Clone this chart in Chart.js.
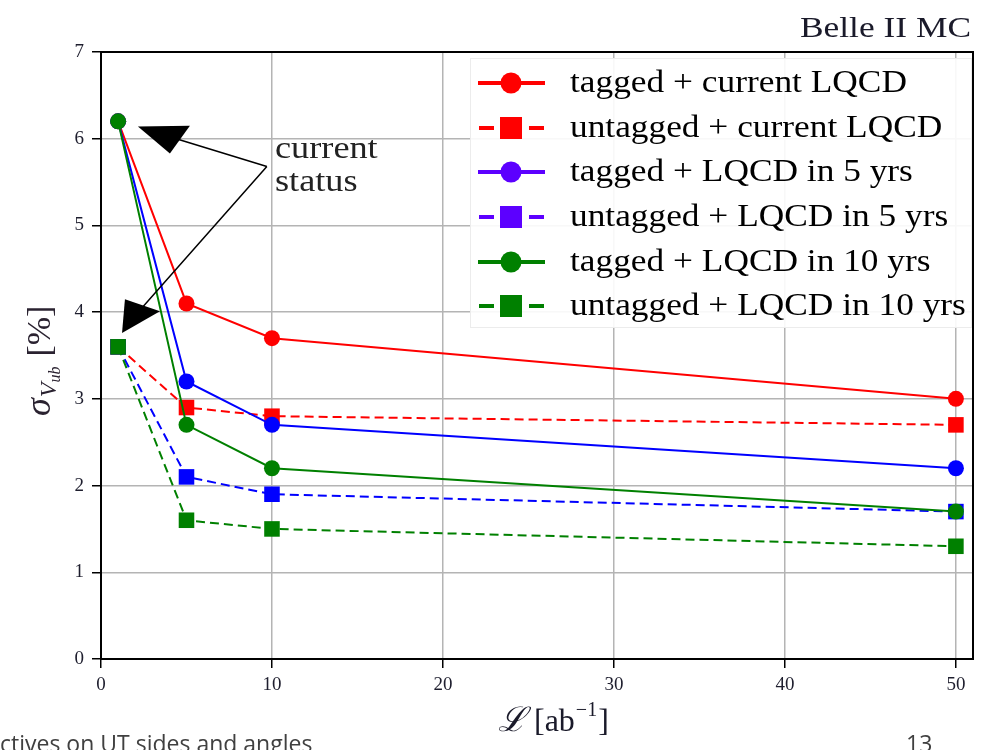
<!DOCTYPE html>
<html>
<head>
<meta charset="utf-8">
<script src="https://cdn.jsdelivr.net/npm/chart.js@4.4.0/dist/chart.umd.min.js"></script>
<style>
  body { margin: 0; background: #fff; }
  #wrap { width: 988px; height: 750px; }
</style>
</head>
<body>
<div id="wrap"><canvas id="vubChart" width="988" height="750"></canvas></div>
<script>
// luminosity points (ab^-1)
const lumi = [1, 5, 10, 50];

// sigma(Vub) in %
const taggedCurrent   = [6.2, 4.1, 3.7, 3.0];
const untaggedCurrent = [3.6, 2.9, 2.8, 2.7];
const tagged5yrs      = [6.2, 3.2, 2.7, 2.2];
const untagged5yrs    = [3.6, 2.1, 1.9, 1.7];
const tagged10yrs     = [6.2, 2.7, 2.2, 1.7];
const untagged10yrs   = [3.6, 1.6, 1.5, 1.3];

const seriesLabels = [
    'tagged + current LQCD',
    'untagged + current LQCD',
    'tagged + LQCD in 5 yrs',
    'untagged + LQCD in 5 yrs',
    'tagged + LQCD in 10 yrs',
    'untagged + LQCD in 10 yrs'
];

const xTicks = [0, 10, 20, 30, 40, 50];
const yTicks = [0, 1, 2, 3, 4, 5, 6, 7];

const SERIF = '"Liberation Serif", "DejaVu Serif", serif';

const toPoints = (vals) => vals.map((v, i) => ({ x: lumi[i], y: v }));

function makeSet(label, vals, color, legendColor, tagged, order) {
    return {
        label: label,
        data: toPoints(vals),
        borderColor: color,
        backgroundColor: color,
        legendColor: legendColor,
        borderWidth: 2,
        borderDash: tagged ? [] : [9, 5],
        pointStyle: tagged ? 'circle' : 'rect',
        pointRadius: tagged ? 8 : 11,
        pointBorderWidth: 0,
        tension: 0,
        order: order
    };
}

// text stretched horizontally (computer modern is wide)
function wideText(ctx, txt, x, y, sx) {
    ctx.save();
    ctx.translate(x, y);
    ctx.scale(sx, 1);
    ctx.fillText(txt, 0, 0);
    ctx.restore();
}

// legend drawn inside plot area
const boxLegend = {
    id: 'boxLegend',
    afterDatasetsDraw(chart) {
        const ctx = chart.ctx;
        const x0 = 470, y0 = 58, x1 = 972, y1 = 328;
        ctx.save();
        ctx.fillStyle = 'rgba(255,255,255,0.9)';
        ctx.fillRect(x0, y0, x1 - x0, y1 - y0);
        ctx.strokeStyle = '#ececec';
        ctx.lineWidth = 1;
        ctx.strokeRect(x0 + 0.5, y0 + 0.5, x1 - x0 - 1, y1 - y0 - 1);

        const rows = [83, 128, 172, 217, 262, 306];
        chart.data.datasets.forEach((ds, i) => {
            const y = rows[i];
            const c = ds.legendColor;
            ctx.strokeStyle = c;
            ctx.fillStyle = c;
            ctx.lineWidth = 4;
            ctx.beginPath();
            if (ds.pointStyle === 'circle') {
                ctx.moveTo(478, y); ctx.lineTo(545, y);
                ctx.stroke();
                ctx.beginPath();
                ctx.arc(511, y, 10.5, 0, Math.PI * 2);
                ctx.fill();
            } else {
                ctx.moveTo(479, y); ctx.lineTo(494, y);
                ctx.moveTo(529, y); ctx.lineTo(544, y);
                ctx.stroke();
                ctx.fillRect(500, y - 11, 22, 22);
            }
            ctx.fillStyle = '#000';
            ctx.font = '31px ' + SERIF;
            ctx.textBaseline = 'middle';
            ctx.textAlign = 'left';
            wideText(ctx, ds.label, 570, y + 1, 1.14);
        });
        ctx.restore();
    }
};

// frame, titles, arrows, slide footer
const extras = {
    id: 'extras',
    afterDraw(chart) {
        const ctx = chart.ctx;
        const a = chart.chartArea;
        const xs = chart.scales.x, ys = chart.scales.y;
        const px = (v) => xs.getPixelForValue(v);
        const py = (v) => ys.getPixelForValue(v);
        ctx.save();

        // frame
        ctx.strokeStyle = '#000';
        ctx.lineWidth = 2;
        ctx.strokeRect(a.left, a.top, a.right - a.left, a.bottom - a.top);

        // "current status" annotation
        ctx.lineWidth = 1.5;
        ctx.beginPath();
        ctx.moveTo(px(9.7), py(5.68)); ctx.lineTo(px(4.4), py(6.0));
        ctx.moveTo(px(9.7), py(5.68)); ctx.lineTo(px(2.4), py(4.05));
        ctx.stroke();
        ctx.fillStyle = '#000';
        ctx.beginPath();
        ctx.moveTo(px(2.16), py(6.14)); ctx.lineTo(px(5.2), py(6.15)); ctx.lineTo(px(4.03), py(5.83));
        ctx.closePath(); ctx.fill();
        ctx.beginPath();
        ctx.moveTo(px(1.4), py(4.15)); ctx.lineTo(px(3.45), py(4.01)); ctx.lineTo(px(1.23), py(3.76));
        ctx.closePath(); ctx.fill();

        ctx.fillStyle = '#222';
        ctx.font = '31px ' + SERIF;
        ctx.textAlign = 'left';
        ctx.textBaseline = 'alphabetic';
        wideText(ctx, 'current', 275, 158, 1.17);
        wideText(ctx, 'status', 275, 191, 1.17);

        // Belle II MC
        ctx.fillStyle = '#1a1a2a';
        ctx.font = '30px ' + SERIF;
        ctx.textAlign = 'right';
        wideText(ctx, 'Belle II MC', 971, 37, 1.18);

        // y axis title: sigma_{V_ub} [%]
        ctx.save();
        ctx.translate(50, 352);
        ctx.rotate(-Math.PI / 2);
        ctx.fillStyle = '#2a2230';
        ctx.textAlign = 'left';
        ctx.textBaseline = 'alphabetic';
        let cx = -64;
        ctx.font = 'italic 36px ' + SERIF;
        ctx.fillText('\u03C3', cx, 0); cx += ctx.measureText('\u03C3').width + 1;
        ctx.font = 'italic 24px ' + SERIF;
        ctx.fillText('V', cx, 6); cx += ctx.measureText('V').width;
        ctx.font = 'italic 16px ' + SERIF;
        ctx.fillText('ub', cx, 10); cx += ctx.measureText('ub').width + 10;
        ctx.font = '34px ' + SERIF;
        ctx.fillText('[%]', cx, 0);
        ctx.restore();

        // x axis title: L [ab^-1]
        ctx.fillStyle = '#1a1a2a';
        ctx.textAlign = 'left';
        let lx = 498;
        ctx.font = 'italic 34px "DejaVu Serif", serif';
        ctx.fillText('\u2112', lx, 731); lx += ctx.measureText('\u2112').width + 8;
        ctx.font = '32px ' + SERIF;
        ctx.fillText('[ab', lx, 731); lx += ctx.measureText('[ab').width + 1;
        ctx.font = '20px ' + SERIF;
        ctx.fillText('\u22121', lx, 716); lx += ctx.measureText('\u22121').width + 1;
        ctx.font = '32px ' + SERIF;
        ctx.fillText(']', lx, 731);

        // slide footer
        ctx.fillStyle = '#404040';
        ctx.font = '23px "Open Sans", "Liberation Sans", sans-serif';
        ctx.fillText('ctives on UT sides and angles', 0, 752);
        ctx.fillText('13', 906, 752);

        ctx.restore();
    }
};

const chart = new Chart(document.getElementById('vubChart'), {
    type: 'line',
    data: {
        datasets: [
            makeSet(seriesLabels[0], taggedCurrent,   '#ff0000', '#ff0000', true, 6),
            makeSet(seriesLabels[1], untaggedCurrent, '#ff0000', '#ff0000', false, 5),
            makeSet(seriesLabels[2], tagged5yrs,      '#0000ff', '#5c00ff', true, 4),
            makeSet(seriesLabels[3], untagged5yrs,    '#0000ff', '#5c00ff', false, 3),
            makeSet(seriesLabels[4], tagged10yrs,     '#008000', '#008000', true, 2),
            makeSet(seriesLabels[5], untagged10yrs,   '#008000', '#008000', false, 1)
        ]
    },
    options: {
        responsive: false,
        animation: false,
        layout: { padding: { left: 0, top: 52, right: 15, bottom: 0 } },
        plugins: {
            legend: { display: false },
            tooltip: { enabled: false },
            title: { display: false }
        },
        scales: {
            x: {
                type: 'linear',
                min: 0,
                max: 51,
                afterBuildTicks: (s) => { s.ticks = xTicks.map(v => ({ value: v })); },
                afterFit: (s) => { s.height = 91; },
                grid: { color: '#b4b4b4', lineWidth: 1.5, tickColor: '#000', tickLength: 9, tickWidth: 1.5 },
                border: { display: true, color: '#000', width: 2 },
                ticks: {
                    color: '#1e1e2e',
                    padding: 6,
                    maxRotation: 0,
                    font: { family: SERIF, size: 19 }
                }
            },
            y: {
                min: 0,
                max: 7,
                afterBuildTicks: (s) => { s.ticks = yTicks.map(v => ({ value: v })); },
                afterFit: (s) => { s.width = 101; },
                grid: { color: '#b4b4b4', lineWidth: 1.5, tickColor: '#000', tickLength: 9, tickWidth: 1.5 },
                border: { display: true, color: '#000', width: 2 },
                ticks: {
                    color: '#1e1e2e',
                    padding: 8,
                    font: { family: SERIF, size: 19 }
                }
            }
        }
    },
    plugins: [boxLegend, extras]
});
</script>
</body>
</html>
